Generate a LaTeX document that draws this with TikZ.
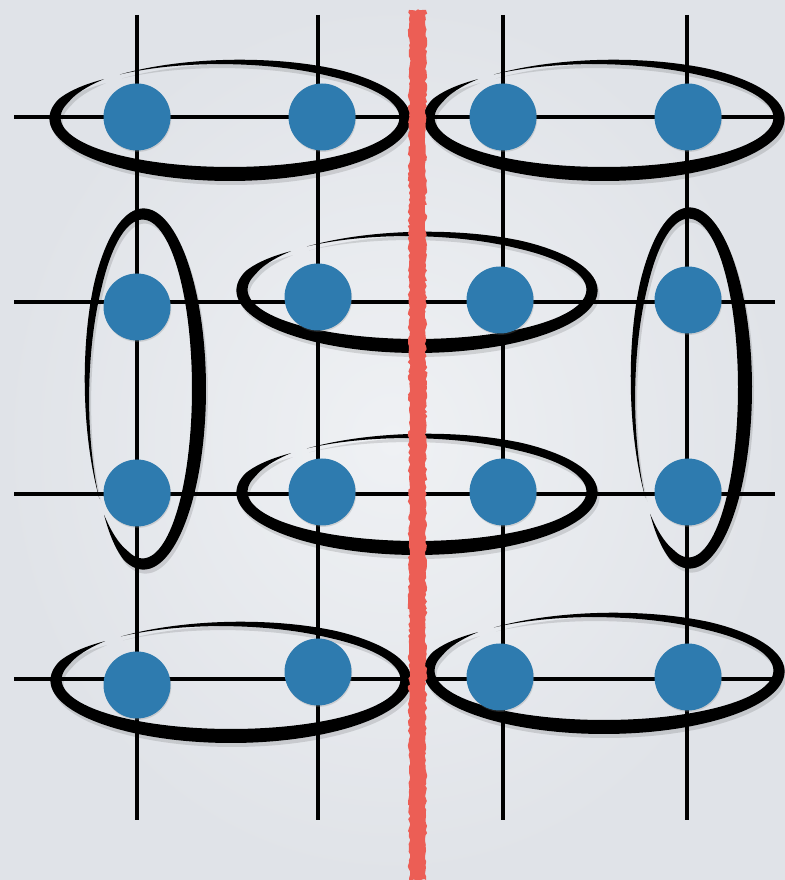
\documentclass[tikz,border=0pt]{standalone}
\usetikzlibrary{calc,shadows,decorations.pathmorphing}
\definecolor{PaperLight}{HTML}{EFF1F4}
\definecolor{PaperEdge}{HTML}{E0E3E8}
\definecolor{SiteBlue}{HTML}{2E7BAF}
\definecolor{CutRed}{HTML}{EC5E55}

% brush width along the loop (thin tip, thick bottom, fading tail)
\tikzset{declare function={
  brushw(\a)=14*min(1,(\a-136)/26)*min(1,(489-\a)/75)*(1-0.4*(1+sin(\a))/2);
}}
\def\brushpath{plot[domain=136:489,samples=140,variable=\t]
    ({(175+brushw(\t)/2)*cos(\t)},{(56+brushw(\t)/2)*sin(\t)})
  -- plot[domain=489:136,samples=140,variable=\t]
    ({(175-brushw(\t)/2)*cos(\t)},{(56-brushw(\t)/2)*sin(\t)}) -- cycle}
\newcommand{\brushloop}[3]{%
  \begin{scope}[shift={($(#1,#2)+(2,-4)$)}, rotate=#3]
    \fill[black, opacity=0.12] \brushpath;
  \end{scope}
  \begin{scope}[shift={(#1,#2)}, rotate=#3]
    \fill[black] \brushpath;
  \end{scope}}

\begin{document}
\begin{tikzpicture}[
  x=0.3mm, y=0.3mm,
  line cap=butt, line join=round,
  site/.style={circle, fill=SiteBlue, inner sep=0pt, minimum size=20.1mm,
    drop shadow={opacity=0.25, shadow xshift=0.6pt, shadow yshift=-1.2pt}},
  gridline/.style={black, line width=3.4pt}
]

% === Background ===
\shade[inner color=PaperLight, outer color=PaperEdge] (0,0) rectangle (785,880);
\useasboundingbox (0,0) rectangle (785,880);

% === Square lattice ===
\foreach \x in {137,318,503,687} {
  \draw[gridline] (\x,865) -- (\x,60);
}
\foreach \y in {763,578,386,201} {
  \draw[gridline] (14,\y) -- (775,\y);
}

% === Dimer loops (brush strokes) ===
% horizontal pairs
\foreach \cx/\cy in {230/762, 604/762, 417/590, 417/388, 231/200, 604/209} {
  \brushloop{\cx}{\cy}{0}
}
% vertical pairs
\foreach \cx/\cy in {143/491, 689/492} {
  \brushloop{\cx}{\cy}{90}
}

% === Sites ===
\foreach \r/\c/\x/\y in {
  1/1/137/763, 1/2/322/763, 1/3/503/763, 1/4/688/763,
  2/1/137/573, 2/2/318/583, 2/3/500/580, 2/4/688/580,
  3/1/137/387, 3/2/322/388, 3/3/503/388, 3/4/688/388,
  4/1/137/195, 4/2/318/208, 4/3/500/203, 4/4/688/203%
}{
  \node[site] (d\r\c) at (\x,\y) {};
}

% === Cut (red rough line) ===
\fill[CutRed, decorate,
  decoration={random steps, segment length=2.5pt, amplitude=1.1pt}]
  (409,0) rectangle (426,870);

\end{tikzpicture}
\end{document}
